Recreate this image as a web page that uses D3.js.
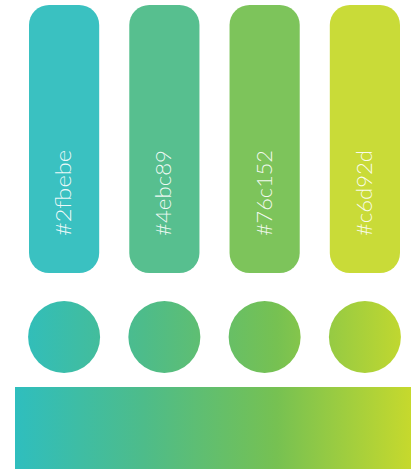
<!DOCTYPE html>
<html>
<head>
<meta charset="utf-8">
<script src="https://cdn.jsdelivr.net/npm/d3@7"></script>
<style>
  html, body { margin: 0; padding: 0; background: #ffffff; }
  svg { display: block; }
</style>
</head>
<body>
<svg id="chart" width="419" height="471"></svg>
<script>
// Swatch colours (labels are the hex codes themselves)
const swatches = ["#2fbebe", "#4ebc89", "#76c152", "#c6d92d"];
// Gradient stops (offset fractions) built from the swatches
const gradientOffsets = [0, 0.33, 0.66, 1];

const svg = d3.select("#chart");

const x = d3.scaleBand()
  .domain(swatches)
  .range([29, 400])
  .paddingInner(0.3)
  .paddingOuter(0);

// Shared horizontal gradient in user space spanning the bottom bar
const barX0 = 15, barX1 = 411;
const defs = svg.append("defs");
const grad = defs.append("linearGradient")
  .attr("id", "spectrum")
  .attr("gradientUnits", "userSpaceOnUse")
  .attr("x1", barX0).attr("x2", barX1)
  .attr("y1", 0).attr("y2", 0);
grad.selectAll("stop")
  .data(swatches)
  .join("stop")
  .attr("offset", (d, i) => gradientOffsets[i])
  .attr("stop-color", d => d);

// Tall rounded swatches
const bars = svg.append("g").selectAll("g")
  .data(swatches)
  .join("g");

bars.append("rect")
  .attr("x", d => x(d))
  .attr("y", 5)
  .attr("width", x.bandwidth())
  .attr("height", 268)
  .attr("rx", 20)
  .attr("ry", 20)
  .attr("fill", d => d)
  .attr("fill-opacity", 0.95);

bars.append("text")
  .attr("transform", d => `translate(${x(d) + x.bandwidth() / 2},236) rotate(-90)`)
  .attr("x", 0)
  .attr("y", 7)
  .attr("text-anchor", "start")
  .attr("fill", "#ffffff")
  .attr("fill-opacity", 0.92)
  .attr("font-family", "Lato, 'Open Sans', sans-serif")
  .attr("font-weight", 300)
  .attr("font-size", 21)
  .attr("textLength", 86)
  .attr("lengthAdjust", "spacingAndGlyphs")
  .text(d => d);

// Circles sampling the shared gradient
svg.append("g").selectAll("circle")
  .data(swatches)
  .join("circle")
  .attr("cx", d => x(d) + x.bandwidth() / 2)
  .attr("cy", 337)
  .attr("r", 36)
  .attr("fill", "url(#spectrum)");

// Bottom gradient bar
svg.append("rect")
  .attr("x", barX0)
  .attr("y", 387)
  .attr("width", barX1 - barX0)
  .attr("height", 82)
  .attr("fill", "url(#spectrum)");
</script>
</body>
</html>
